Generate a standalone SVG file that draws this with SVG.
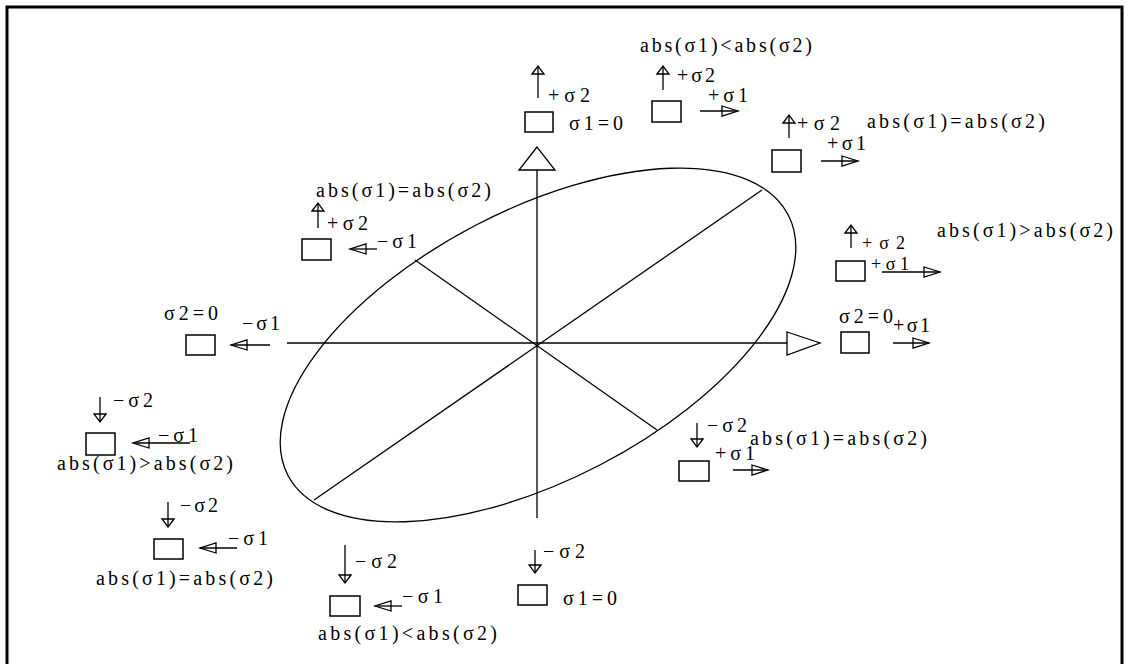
<svg xmlns="http://www.w3.org/2000/svg" width="1128" height="664" viewBox="0 0 1128 664">
<defs>
<style>
.l{stroke:#000;stroke-width:1.3;fill:none}
.b{stroke:#000;stroke-width:1.5;fill:#fff}
text{font-family:"Liberation Serif","DejaVu Serif",serif;font-size:20px;fill:#000}
.s{font-size:18px}
.ah{marker-end:url(#mh)}
.av{marker-end:url(#mv)}
</style>
<marker id="mh" markerUnits="userSpaceOnUse" viewBox="-1 -6 18 12" refX="16" refY="0" markerWidth="18" markerHeight="12" orient="auto" overflow="visible">
<path d="M0,-5 L16,0 L0,5 Z" fill="none" stroke="#000" stroke-width="1.3"/>
</marker>
<marker id="mv" markerUnits="userSpaceOnUse" viewBox="-1 -7 10 14" refX="8" refY="0" markerWidth="10" markerHeight="14" orient="auto" overflow="visible">
<path d="M0,-6 L8,0 L0,6 Z" fill="none" stroke="#000" stroke-width="1.3"/>
</marker>
</defs>
<rect width="1128" height="664" fill="#fff"/>
<rect x="7" y="7" width="1115" height="680" fill="none" stroke="#000" stroke-width="3"/>

<g id="ellipse-figure">
<ellipse cx="538" cy="345" rx="282" ry="135" transform="rotate(-27.5 538 345)" class="l"/>
<line x1="314" y1="500" x2="762" y2="190" class="l"/>
<line x1="415" y1="260" x2="657" y2="430" class="l"/>
</g>

<g id="connectors">
<line x1="537" y1="170" x2="537" y2="518" class="l"/>
<polygon points="537,147 519,170 555,170" class="l"/>
<line x1="287" y1="343" x2="787" y2="343" class="l"/>
<polygon points="787,332 820,343 787,355" class="l"/>
</g>

<g id="n-top-s1zero">
<line x1="538" y1="98" x2="538" y2="66" class="l av"/>
<text x="548" y="102" textLength="42" lengthAdjust="spacing">+σ2</text>
<rect x="525" y="112" width="28" height="20" class="b"/>
<text x="569" y="130" textLength="54" lengthAdjust="spacing">σ1=0</text>
</g>

<g id="n-top-less">
<text x="640" y="52" textLength="172" lengthAdjust="spacing">abs(σ1)&lt;abs(σ2)</text>
<line x1="663" y1="90" x2="663" y2="66" class="l av"/>
<text x="677" y="82" textLength="38" lengthAdjust="spacing">+σ2</text>
<rect x="652" y="101" width="29" height="21" class="b"/>
<text x="708" y="102" textLength="40" lengthAdjust="spacing">+σ1</text>
<line x1="700" y1="111" x2="738" y2="111" class="l ah"/>
</g>

<g id="n-top-right-equal">
<line x1="789" y1="138" x2="789" y2="115" class="l av"/>
<text x="797" y="130" textLength="43" lengthAdjust="spacing">+σ2</text>
<text x="867" y="128" textLength="178" lengthAdjust="spacing">abs(σ1)=abs(σ2)</text>
<text x="827" y="150" textLength="39" lengthAdjust="spacing">+σ1</text>
<rect x="772" y="150" width="29" height="22" class="b"/>
<line x1="821" y1="161" x2="858" y2="161" class="l ah"/>
</g>

<g id="n-right-greater">
<line x1="851" y1="248" x2="851" y2="225" class="l av"/>
<text x="862" y="249" class="s" textLength="43" lengthAdjust="spacing">+σ2</text>
<text x="937" y="237" textLength="176" lengthAdjust="spacing">abs(σ1)&gt;abs(σ2)</text>
<rect x="836" y="261" width="29" height="20" class="b"/>
<text x="871" y="270" class="s" textLength="38" lengthAdjust="spacing">+σ1</text>
<line x1="882" y1="272" x2="940" y2="272" class="l ah"/>
</g>

<g id="n-right-s2zero">
<text x="839" y="323" textLength="54" lengthAdjust="spacing">σ2=0</text>
<text x="893" y="332" textLength="37" lengthAdjust="spacing">+σ1</text>
<rect x="841" y="332" width="28" height="21" class="b"/>
<line x1="893" y1="343" x2="929" y2="343" class="l ah"/>
</g>

<g id="n-left-top-equal">
<text x="316" y="197" textLength="175" lengthAdjust="spacing">abs(σ1)=abs(σ2)</text>
<line x1="318" y1="228" x2="318" y2="203" class="l av"/>
<text x="327" y="230" textLength="41" lengthAdjust="spacing">+σ2</text>
<rect x="302" y="239" width="29" height="21" class="b"/>
<line x1="377" y1="249" x2="350" y2="249" class="l ah"/>
<text x="377" y="248" textLength="40" lengthAdjust="spacing">−σ1</text>
</g>

<g id="n-left-s2zero">
<text x="164" y="320" textLength="54" lengthAdjust="spacing">σ2=0</text>
<text x="242" y="330" textLength="38" lengthAdjust="spacing">−σ1</text>
<rect x="186" y="335" width="29" height="20" class="b"/>
<line x1="270" y1="345" x2="231" y2="345" class="l ah"/>
</g>

<g id="n-left-greater">
<line x1="100" y1="397" x2="100" y2="422" class="l av"/>
<text x="113" y="407" textLength="40" lengthAdjust="spacing">−σ2</text>
<rect x="86" y="433" width="29" height="22" class="b"/>
<line x1="190" y1="443" x2="133" y2="443" class="l ah"/>
<text x="158" y="442" textLength="40" lengthAdjust="spacing">−σ1</text>
<text x="57" y="470" textLength="176" lengthAdjust="spacing">abs(σ1)&gt;abs(σ2)</text>
</g>

<g id="n-left-lower-equal">
<line x1="168" y1="502" x2="168" y2="527" class="l av"/>
<text x="180" y="512" textLength="38" lengthAdjust="spacing">−σ2</text>
<rect x="154" y="539" width="29" height="20" class="b"/>
<line x1="237" y1="548" x2="200" y2="548" class="l ah"/>
<text x="228" y="545" textLength="40" lengthAdjust="spacing">−σ1</text>
<text x="96" y="585" textLength="177" lengthAdjust="spacing">abs(σ1)=abs(σ2)</text>
</g>

<g id="n-bottom-less">
<line x1="345" y1="545" x2="345" y2="583" class="l av"/>
<text x="355" y="568" textLength="42" lengthAdjust="spacing">−σ2</text>
<rect x="330" y="596" width="30" height="20" class="b"/>
<line x1="402" y1="606" x2="375" y2="606" class="l ah"/>
<text x="402" y="603" textLength="41" lengthAdjust="spacing">−σ1</text>
<text x="318" y="640" textLength="179" lengthAdjust="spacing">abs(σ1)&lt;abs(σ2)</text>
</g>

<g id="n-bottom-s1zero">
<line x1="535" y1="550" x2="535" y2="573" class="l av"/>
<text x="543" y="558" textLength="42" lengthAdjust="spacing">−σ2</text>
<rect x="518" y="585" width="29" height="20" class="b"/>
<text x="563" y="605" textLength="54" lengthAdjust="spacing">σ1=0</text>
</g>

<g id="n-right-lower-equal">
<line x1="697" y1="423" x2="697" y2="447" class="l av"/>
<text x="707" y="432" textLength="40" lengthAdjust="spacing">−σ2</text>
<text x="750" y="445" textLength="177" lengthAdjust="spacing">abs(σ1)=abs(σ2)</text>
<rect x="679" y="461" width="30" height="20" class="b"/>
<text x="715" y="460" textLength="40" lengthAdjust="spacing">+σ1</text>
<line x1="733" y1="470" x2="768" y2="470" class="l ah"/>
</g>
</svg>
